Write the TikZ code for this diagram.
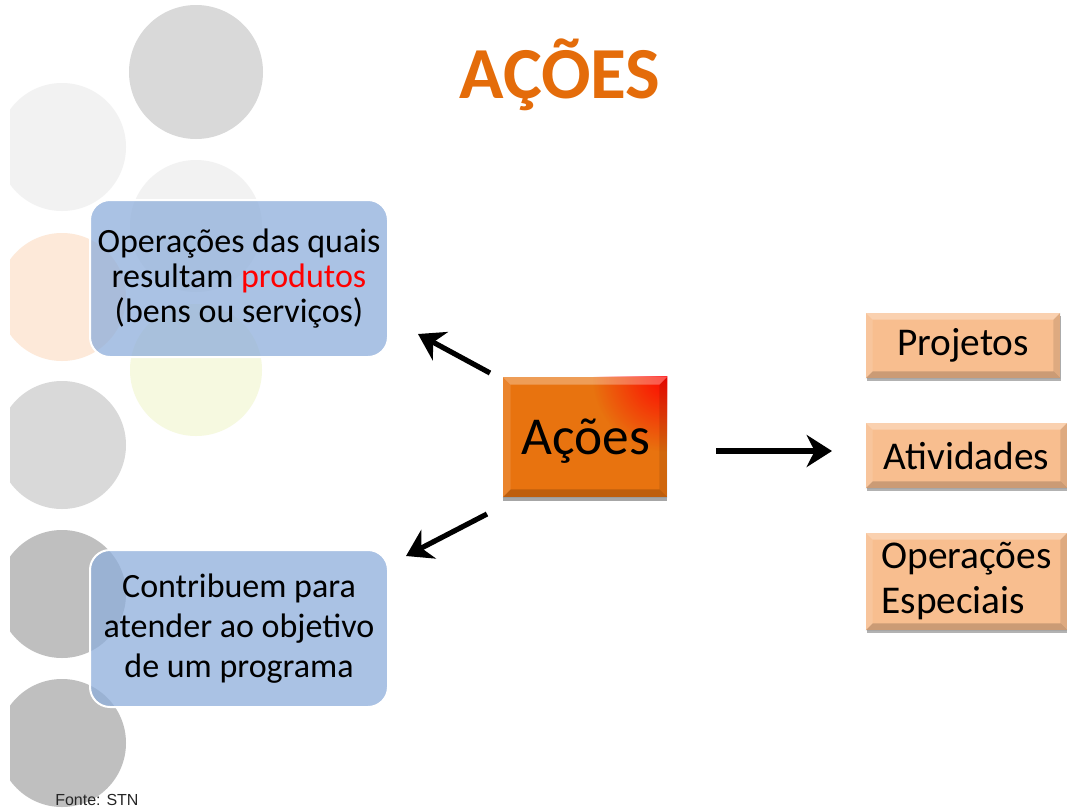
\documentclass[tikz,border=0pt]{standalone}
\usepackage{fontspec}
\setmainfont{Carlito}
\newfontfamily\arialfont{Liberation Sans}
\usetikzlibrary{arrows.meta,fadings,shadows}
\definecolor{titleorange}{HTML}{E46C0A}
\definecolor{boxorange}{HTML}{E8730F}
\definecolor{peach}{HTML}{F8BE8F}
\definecolor{bluefill}{HTML}{8EAEDB}
\definecolor{cgray}{HTML}{D9D9D9}
\definecolor{clight}{HTML}{F2F2F2}
\definecolor{cpeach}{HTML}{FDE9D9}
\definecolor{cyellow}{HTML}{F6F9E0}
\definecolor{cdark}{HTML}{BFBFBF}
\tikzfading[name=glowfade, inner color=transparent!0, outer color=transparent!100]
\tikzset{
  bluebox/.style={rectangle, rounded corners=15pt, fill=bluefill, fill opacity=0.75,
    draw=white, line width=1.5pt, text opacity=1, minimum width=223.5pt,
    minimum height=117.75pt, align=center, text=black},
  acoesbox/.style={rectangle, fill=boxorange, minimum width=123pt, minimum height=90pt,
    drop shadow={shadow xshift=0pt, shadow yshift=-3pt, opacity=0.35, fill=black}},
  peachbox/.style={rectangle, fill=peach, minimum height=48.75pt, align=left,
    font=\fontsize{29.5}{34}\selectfont, text=black,
    drop shadow={shadow xshift=1pt, shadow yshift=-2pt, opacity=0.3, fill=black}},
  bigarrow/.style={line width=3.9pt, -{Stealth[length=19pt, width=24pt, inset=6pt]}}
}
\newcommand{\bevel}[2]{%
  \fill[white, opacity=0.30] (#1.north west) -- (#1.north east) -- ([shift={(-#2,#2)}]#1.north east) -- ([shift={(#2,#2)}]#1.north west) -- cycle;
  \fill[white, opacity=0.12] (#1.north west) -- ([shift={(#2,#2)}]#1.north west) -- ([shift={(#2,-#2)}]#1.south west) -- (#1.south west) -- cycle;
  \fill[black, opacity=0.10] (#1.north east) -- (#1.south east) -- ([shift={(-#2,-#2)}]#1.south east) -- ([shift={(-#2,#2)}]#1.north east) -- cycle;
  \fill[black, opacity=0.18] (#1.south west) -- (#1.south east) -- ([shift={(-#2,-#2)}]#1.south east) -- ([shift={(#2,-#2)}]#1.south west) -- cycle;
}
\begin{document}
\begin{tikzpicture}[x=0.75pt,y=-0.75pt]
\useasboundingbox (0,0) rectangle (1067,811);
\fill[white] (0,0) rectangle (1067,811);
% background circles
\begin{scope}
\clip (10,0) rectangle (1067,811);
\fill[cgray] (196,72) circle (67);
\fill[clight] (62,147) circle (64);
\fill[clight] (196,226) circle (66);
\fill[cpeach] (62,297) circle (64);
\fill[cyellow] (196,370) circle (66);
\fill[cgray] (62,445) circle (64);
\fill[cdark] (62,594) circle (64);
\fill[cdark] (62,743) circle (64);
\end{scope}
% title
\node[anchor=base, font=\fontsize{55}{62}\selectfont\bfseries, text=titleorange] (title) at (560,98) {AÇÕES};
% blue boxes
\node[bluebox, font=\fontsize{25.5}{26.25}\selectfont] (ops) at (239,278.5) {Operações das quais\\resultam \textcolor{red}{produtos}\\(bens ou serviços)};
\node[bluebox, font=\fontsize{25.5}{30}\selectfont] (contrib) at (239,628.5) {Contribuem para\\atender ao objetivo\\de um programa};
% central box
\node[acoesbox] (acoes) at (585,437) {};
\begin{scope}
\clip (acoes.south west) rectangle (acoes.north east);
\fill[red, path fading=glowfade, fill opacity=0.95] (acoes.north east) circle (75);
\end{scope}
\bevel{acoes}{8}
\node (acoestxt) at (586,441) {\fontsize{40}{48}\selectfont Ações};
% right boxes
\node[peachbox, minimum width=145.5pt] (proj) at (963,345.5) {Projetos};
\bevel{proj}{7}
\node[peachbox, minimum width=150.75pt] (ativ) at (966.5,455.5) {Atividades};
\bevel{ativ}{7}
\node[peachbox, minimum width=150.75pt, minimum height=72.75pt, font=\fontsize{29.5}{33.75}\selectfont] (opesp) at (966.5,581.5) {Operações\\Especiais};
\bevel{opesp}{7}
% arrows
\coordinate (a1s) at (490,373);
\coordinate (a1e) at (418,334);
\coordinate (a2s) at (487,514);
\coordinate (a2e) at (406,556);
\coordinate (a3s) at (716,451);
\coordinate (a3e) at (832,451);
\draw[bigarrow] (a1s) -- (a1e);
\draw[bigarrow] (a2s) -- (a2e);
\draw[bigarrow] (a3s) -- (a3e);
% source
\node[anchor=base west, font=\arialfont\fontsize{12}{14}\selectfont, text=black!85, inner sep=0pt] (fonte) at (55,805) {Fonte: STN};
\end{tikzpicture}
\end{document}
